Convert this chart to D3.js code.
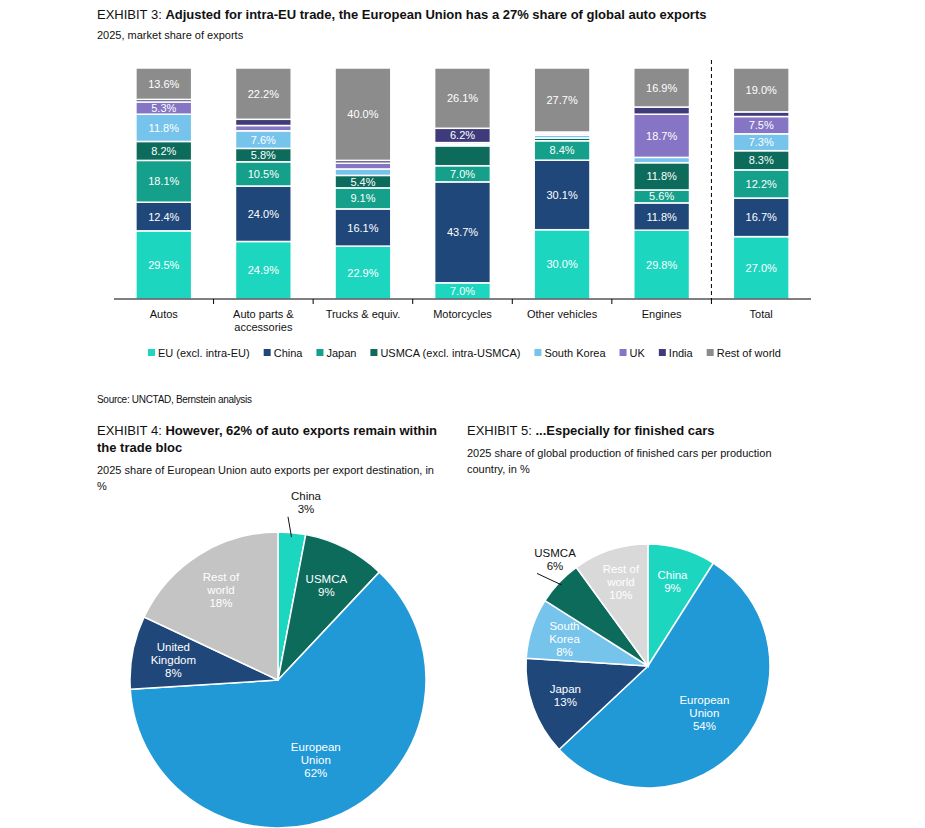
<!DOCTYPE html>
<html><head><meta charset="utf-8">
<script src="https://cdn.jsdelivr.net/npm/d3@7"></script>
<style>body{margin:0;background:#fff;font-family:"Liberation Sans",Arial,sans-serif}</style>
</head><body>
<svg id="c" width="925" height="828"></svg>
<script>
var categories = ["Autos", "Auto parts &\naccessories", "Trucks & equiv.", "Motorcycles", "Other vehicles", "Engines", "Total"];
var seriesNames = ["EU (excl. intra-EU)", "China", "Japan", "USMCA (excl. intra-USMCA)", "South Korea", "UK", "India", "Rest of world"];
var seriesColors = ["#1dd6c0", "#1f477a", "#14a08a", "#0d6b5c", "#76c4ec", "#8575c4", "#3f3a7a", "#8c8c8c"];
var euShare = [29.5, 24.9, 22.9, 7.0, 30.0, 29.8, 27.0];
var chinaShare = [12.4, 24.0, 16.1, 43.7, 30.1, 11.8, 16.7];
var japanShare = [18.1, 10.5, 9.1, 7.0, 8.4, 5.6, 12.2];
var usmcaShare = [8.2, 5.8, 5.4, 8.6, 1.2, 11.8, 8.3];
var koreaShare = [11.8, 7.6, 2.8, 0.7, 1.2, 2.3, 7.3];
var ukShare = [5.3, 2.3, 2.5, 0.7, 0.7, 18.7, 7.5];
var indiaShare = [1.1, 2.7, 1.2, 6.2, 0.7, 3.1, 2.0];
var restShare = [13.6, 22.2, 40.0, 26.1, 27.7, 16.9, 19.0];
var labelMin = 5;
var unlabelled = {"3|USMCA (excl. intra-USMCA)": true};

var pie1Labels = ["China", "USMCA", "European\nUnion", "United\nKingdom", "Rest of\nworld"];
var pie1Values = [3, 9, 62, 8, 18];
var pie1Colors = ["#1dd6c0", "#0d6b5c", "#2199d6", "#1f477a", "#c4c4c4"];
var pie2Labels = ["China", "European\nUnion", "Japan", "South\nKorea", "USMCA", "Rest of\nworld"];
var pie2Values = [9, 54, 13, 8, 6, 10];
var pie2Colors = ["#1dd6c0", "#2199d6", "#1f477a", "#76c4ec", "#0d6b5c", "#d9d9d9"];

var svg = d3.select("#c");

function title(x, y, lead, bold, lines) {
  var t = svg.append("text").attr("x", x).attr("y", y).attr("font-size", 13).attr("fill", "#111");
  t.append("tspan").text(lead);
  t.append("tspan").attr("font-weight", "bold").text(bold);
  (lines || []).forEach(function (l, i) {
    svg.append("text").attr("x", x).attr("y", y + 17 * (i + 1)).attr("font-size", 13)
      .attr("font-weight", "bold").attr("fill", "#111").text(l);
  });
}
function note(x, y, lines) {
  lines.forEach(function (l, i) {
    svg.append("text").attr("x", x).attr("y", y + i * 16).attr("font-size", 11).attr("fill", "#111").text(l);
  });
}

title(97, 19, "EXHIBIT 3: ", "Adjusted for intra-EU trade, the European Union has a 27% share of global auto exports");
note(97, 39, ["2025, market share of exports"]);

// stacked bars
var allSeries = [euShare, chinaShare, japanShare, usmcaShare, koreaShare, ukShare, indiaShare, restShare];
var rows = categories.map(function (c, i) {
  var r = {cat: c};
  seriesNames.forEach(function (s, j) { r[s] = allSeries[j][i]; });
  return r;
});
var stack = d3.stack().keys(seriesNames)(rows);
var x = d3.scaleBand().domain(categories).range([114, 811]).paddingInner(0.44).paddingOuter(0.22);
var y = d3.scaleLinear().domain([0, 100]).range([299, 68]);

var g = svg.append("g");
stack.forEach(function (layer, j) {
  layer.forEach(function (d, i) {
    var v = d[1] - d[0];
    g.append("rect").attr("x", x(categories[i])).attr("width", x.bandwidth())
      .attr("y", y(d[1])).attr("height", y(d[0]) - y(d[1]))
      .attr("fill", seriesColors[j]).attr("stroke", "#fff").attr("stroke-width", 1.5);
    if (v >= labelMin && !unlabelled[i + "|" + seriesNames[j]]) {
      g.append("text").attr("x", x(categories[i]) + x.bandwidth() / 2)
        .attr("y", (y(d[0]) + y(d[1])) / 2 + 4).attr("text-anchor", "middle")
        .attr("font-size", 11).attr("fill", "#fff").text(v.toFixed(1) + "%");
    }
  });
});
svg.append("line").attr("x1", 114).attr("x2", 811).attr("y1", 299).attr("y2", 299).attr("stroke", "#000");
var step = x.step();
categories.forEach(function (c, i) {
  if (i > 0) {
    var tx = x(c) - (step - x.bandwidth()) / 2;
    svg.append("line").attr("x1", tx).attr("x2", tx).attr("y1", 299).attr("y2", 304).attr("stroke", "#000");
  }
  c.split("\n").forEach(function (l, k) {
    svg.append("text").attr("x", x(c) + x.bandwidth() / 2).attr("y", 318 + k * 13)
      .attr("text-anchor", "middle").attr("font-size", 11).attr("fill", "#111").text(l);
  });
});
var dx = x("Total") - (step - x.bandwidth()) / 2;
svg.append("line").attr("x1", dx).attr("x2", dx).attr("y1", 60).attr("y2", 299)
  .attr("stroke", "#000").attr("stroke-dasharray", "4,3");

// legend
var lx = 148;
seriesNames.forEach(function (s, j) {
  svg.append("rect").attr("x", lx).attr("y", 349).attr("width", 7).attr("height", 7).attr("fill", seriesColors[j]);
  var t = svg.append("text").attr("x", lx + 10).attr("y", 357).attr("font-size", 11).attr("fill", "#111").text(s);
  lx += t.node().getComputedTextLength() + 24;
});

svg.append("text").attr("x", 97).attr("y", 403).attr("font-size", 10).attr("letter-spacing", -0.3)
  .attr("fill", "#111").text("Source: UNCTAD, Bernstein analysis");

title(97, 435, "EXHIBIT 4: ", "However, 62% of auto exports remain within", ["the trade bloc"]);
note(97, 474, ["2025 share of European Union auto exports per export destination, in", "%"]);
title(467, 435, "EXHIBIT 5: ", "...Especially for finished cars");
note(467, 457, ["2025 share of global production of finished cars per production", "country, in %"]);

function drawPie(cx, cy, r, labels, values, colors, outside) {
  var pg = svg.append("g").attr("transform", "translate(" + cx + "," + cy + ")");
  var arcs = d3.pie().sort(null)(values);
  var arc = d3.arc().innerRadius(0).outerRadius(r);
  pg.selectAll("path").data(arcs).enter().append("path").attr("d", arc)
    .attr("fill", function (d, i) { return colors[i]; }).attr("stroke", "#fff").attr("stroke-width", 1.5);
  arcs.forEach(function (d, i) {
    var out = outside[i];
    var rr = out ? r + 22 : r * (values[i] > 40 ? 0.6 : 0.72);
    var c = d3.arc().innerRadius(rr).outerRadius(rr).centroid(d);
    var lines = labels[i].split("\n").concat([values[i] + "%"]);
    if (out) {
      var a = d3.arc().innerRadius(r * 0.97).outerRadius(r * 0.97).centroid(d);
      pg.append("line").attr("x1", a[0]).attr("y1", a[1]).attr("x2", c[0] - 6).attr("y2", c[1] + 6).attr("stroke", "#111");
      c = [c[0] + 12, c[1] - 8];
    }
    lines.forEach(function (l, k) {
      pg.append("text").attr("x", c[0]).attr("y", c[1] + (k - (lines.length - 1) / 2) * 13 + 4)
        .attr("text-anchor", "middle").attr("font-size", 11.5).attr("fill", out ? "#111" : "#fff").text(l);
    });
  });
}
drawPie(278, 680, 148, pie1Labels, pie1Values, pie1Colors, [true, false, false, false, false]);
drawPie(648, 666, 122, pie2Labels, pie2Values, pie2Colors, [false, false, false, false, true, false]);
</script>
</body></html>
